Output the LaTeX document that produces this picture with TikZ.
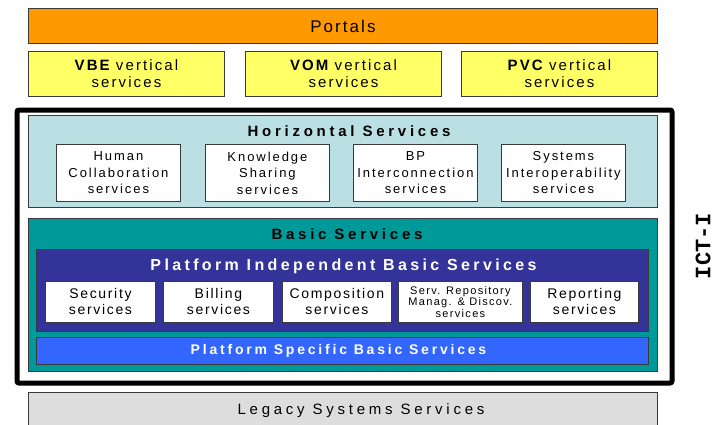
\documentclass[tikz,border=0pt]{standalone}
\usepackage{fontspec}
\setmainfont{Liberation Sans}
\newfontfamily\monob{Liberation Mono}
\newcommand\fs[3]{\fontsize{#1}{#2}\selectfont\addfontfeature{LetterSpace=#3}}
\definecolor{cOrange}{HTML}{FF9900}
\definecolor{cYellow}{HTML}{FFFF66}
\definecolor{cCyan}{HTML}{BBE0E3}
\definecolor{cTeal}{HTML}{009999}
\definecolor{cIndigo}{HTML}{333399}
\definecolor{cBlue}{HTML}{3366FF}
\definecolor{cGray}{HTML}{DDDDDD}
\definecolor{cEdge}{HTML}{3A3A3A}
\tikzset{
  box/.style={draw=cEdge, line width=0.9pt, anchor=north west, inner sep=0pt, align=center},
  vert/.style={box, fill=cYellow, minimum width=196pt, minimum height=45pt, font=\fs{15}{17}{14}},
  hsvc/.style={box, fill=white, minimum width=124pt, minimum height=57pt, font=\fs{13}{16.5}{15}},
  bsvc/.style={box, fill=white, minimum height=41pt, font=\fs{14}{16}{12}},
  title/.style={inner sep=0pt, font=\bfseries\fs{15}{18}{25}},
}
\begin{document}
\begin{tikzpicture}[x=1pt,y=-1pt]
\useasboundingbox (0,0) rectangle (714,424);
% top layers
\node[box, fill=cOrange, minimum width=629pt, minimum height=35pt, font=\fs{17}{20}{12}] (portals) at (28,8) {Portals};
\node[vert] (vbe) at (28,51) {{\bfseries VBE} vertical\\services};
\node[vert] (vom) at (245,51) {{\bfseries VOM} vertical\\services};
\node[vert] (pvc) at (461,51) {{\bfseries PVC} vertical\\services};
% ICT-I frame
\node[draw=black, line width=5pt, rounded corners=2pt, anchor=north west, minimum width=655pt, minimum height=273pt, inner sep=0pt] (ictframe) at (14.5,107.5) {};
\node[rotate=90, inner sep=0pt, font=\monob\bfseries\fontsize{22}{22}\selectfont] (ictlabel) at (703,246) {ICT-I};
% Horizontal services
\node[box, fill=cCyan, minimum width=629pt, minimum height=92pt] (horiz) at (28,115) {};
\node[title] (horiztitle) at (349,131) {Horizontal Services};
\node[hsvc] (human) at (56,144) {Human\\Collaboration\\services};
\node[hsvc] (know) at (205,144) {Knowledge\\Sharing\\services};
\node[hsvc] (bp) at (353,144) {BP\\Interconnection\\services};
\node[hsvc] (sys) at (501,144) {Systems\\Interoperability\\services};
% Basic services
\node[box, fill=cTeal, minimum width=629pt, minimum height=153pt] (basic) at (28,218) {};
\node[title] (basictitle) at (347,234.5) {Basic Services};
\node[box, fill=cIndigo, minimum width=612pt, minimum height=82pt] (pibs) at (36,249) {};
\node[title, text=white, font=\bfseries\fs{16}{19}{21}] (pibstitle) at (343.5,266) {Platform Independent Basic Services};
\node[bsvc, minimum width=110pt] (sec) at (45,281) {Security\\services};
\node[bsvc, minimum width=110pt] (bill) at (163,281) {Billing\\services};
\node[bsvc, minimum width=109pt] (comp) at (282,281) {Composition\\services};
\node[bsvc, minimum width=124pt, font=\fs{11}{10}{12}] (repo) at (398,281) {Serv. Repository\\Manag. \& Discov.\\services};
\node[bsvc, minimum width=108pt] (rep) at (530,281) {Reporting\\services};
\node[box, fill=cBlue, minimum width=612pt, minimum height=27pt] (psbs) at (36,337) {};
\node[inner sep=0pt, text=white, font=\bfseries\fs{14}{17}{20}] (psbstext) at (338.5,350.5) {Platform Specific Basic Services};
% Legacy
\node[box, fill=cGray, minimum width=629pt, minimum height=40pt] (legacy) at (28,392) {};
\node[inner sep=0pt, font=\fs{15}{18}{25}] (legacytext) at (361,411) {Legacy Systems Services};
\end{tikzpicture}
\end{document}
